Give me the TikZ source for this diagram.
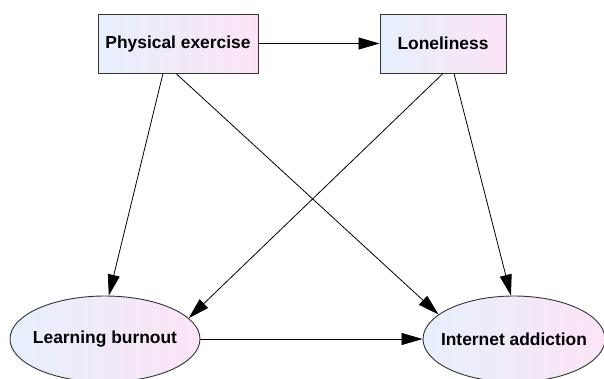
\documentclass[tikz,border=0pt]{standalone}
\usepackage{fontspec}
\setmainfont{Liberation Sans}
\usetikzlibrary{shapes.geometric,arrows.meta,calc}
\definecolor{gleft}{HTML}{E6EFFB}
\definecolor{gright}{HTML}{FCE4F6}
\definecolor{edgecol}{HTML}{333333}
\begin{document}
\begin{tikzpicture}[x=1pt,y=-1pt,
  lbl/.style={font=\fontsize{17.4}{20}\selectfont\bfseries, text=black},
  boxnode/.style={lbl, rectangle, draw=edgecol, line width=0.9pt, left color=gleft, right color=gright, minimum height=59pt, inner sep=0pt},
  ellnode/.style={lbl, ellipse, draw=edgecol, line width=0.9pt, left color=gleft, right color=gright, minimum width=190pt, minimum height=86pt, inner xsep=-20pt, inner ysep=0pt},
  arr/.style={draw=black, line width=0.8pt, -{Triangle[length=21pt,width=12pt]}}]
\useasboundingbox (0,0) rectangle (604,378);
\node[boxnode, minimum width=160pt] (pe) at (178,43.5) {Physical exercise};
\node[boxnode, minimum width=126pt] (lo) at (443,43.5) {Loneliness};
\node[ellnode] (lb) at (105,339) {Learning burnout};
\node[ellnode, minimum width=182pt] (ia) at (514,339) {Internet addiction};
\draw[arr] (pe.east) -- (lo.west);
\draw[arr] ($(pe.south)+(-15,0)$) -- (lb.85);
\draw[arr] ($(pe.south)+(-2,0)$) -- (ia.162);
\draw[arr] (lo.south) -- (lb.14);
\draw[arr] ($(lo.south)+(11,0)$) -- (ia.94);
\draw[arr] (lb.east) -- (ia.west);
\end{tikzpicture}
\end{document}
